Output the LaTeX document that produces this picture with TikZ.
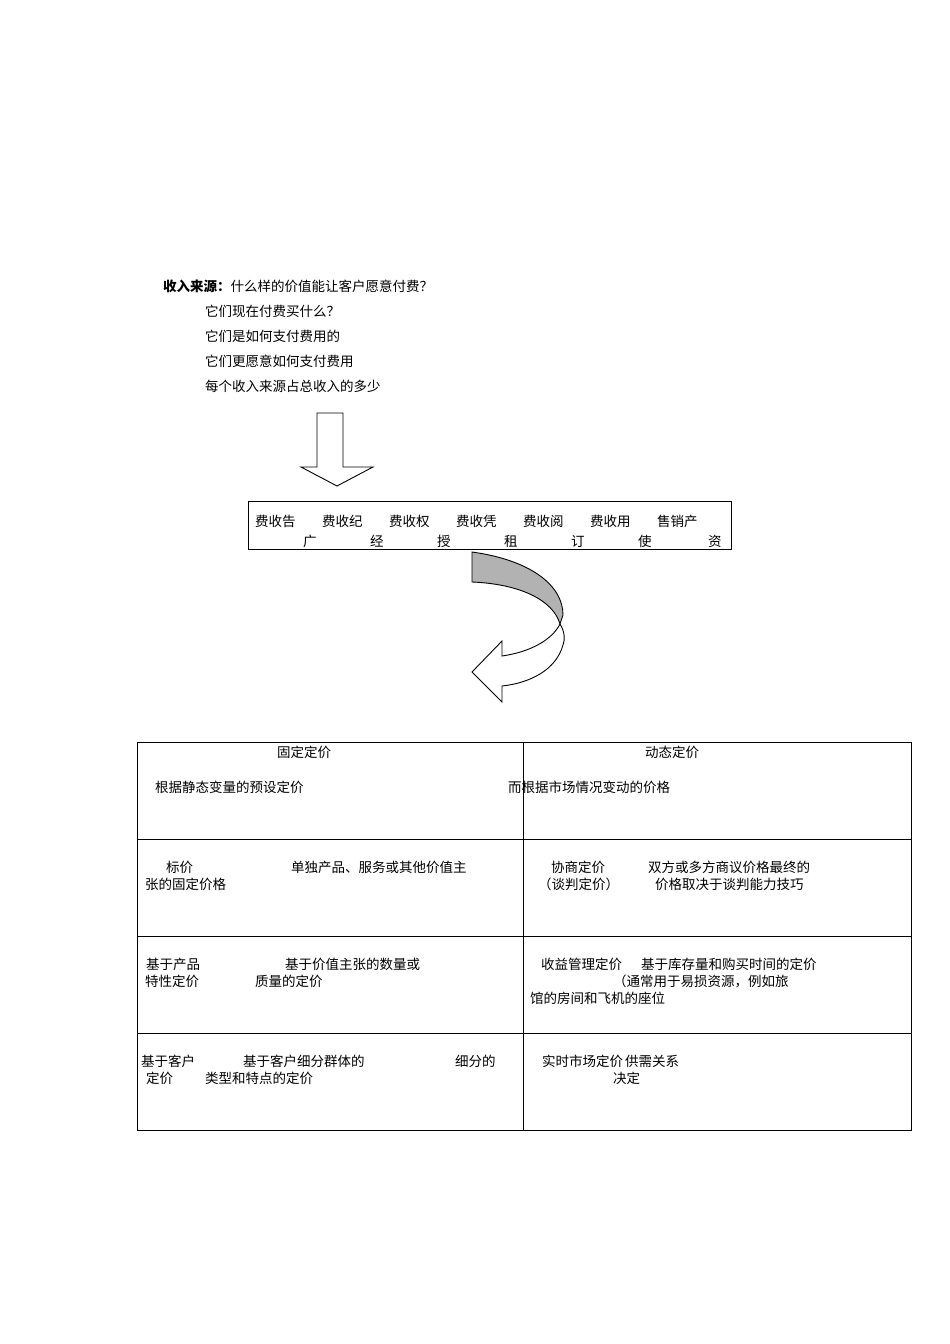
\documentclass[tikz,border=0pt]{standalone}
\usepackage{fontspec}
\setmainfont{Liberation Serif}
\newfontfamily\cjk{Noto Sans CJK SC}
\begin{document}
\begin{tikzpicture}[x=1pt,y=-1pt,
  txt/.style={anchor=west,inner sep=0pt,font=\cjk\fontsize{13.5}{16}\selectfont},
  ln/.style={draw=black,line width=0.9pt}]
\useasboundingbox (0,0) rectangle (950,1344);
% header text
\node[txt] (h0) at (163,286) {\textbf{收入来源：}什么样的价值能让客户愿意付费？};
\node[txt] (h1) at (205,311) {它们现在付费买什么？};
\node[txt] (h2) at (205,336) {它们是如何支付费用的};
\node[txt] (h3) at (205,361) {它们更愿意如何支付费用};
\node[txt] (h4) at (205,386) {每个收入来源占总收入的多少};
% down arrow
\draw[ln,fill=white] (317,413) -- (343,413) -- (343,467) -- (373,467) -- (337,486) -- (301,467) -- (317,467) -- cycle;
% box
\node[draw,line width=0.9pt,minimum width=483pt,minimum height=48pt,inner sep=0pt] (box) at (489.5,525) {};
\foreach \a/\b [count=\i from 0] in {告/广,纪/经,权/授,凭/租,阅/订,用/使}{
  \node[txt] at (255+\i*67,521) {费收\a};
  \node[txt] at (303+\i*67,541) {\b};
}
\node[txt] at (657,521) {售销产};
\node[txt] at (708,541) {资};
% curved arrow
\draw[ln,fill=gray!60] (472,552) .. controls (530,560) and (563,585) .. (563,615)
  -- (560,624) .. controls (553,600) and (520,584) .. (472,582) -- cycle;
\draw[ln,fill=white] (560,624) .. controls (565,632) and (565,640) .. (563,645)
  .. controls (556,670) and (530,683) .. (502,686) -- (502,702) -- (472,672) -- (502,641) -- (502,656)
  .. controls (530,652) and (552,640) .. (560,624);
% table
\draw[line width=0.8pt] (137,742) rectangle (911,1130);
\draw[line width=0.8pt] (523,742) -- (523,1130);
\foreach \y in {839,936,1033}{\draw[line width=0.8pt] (137,\y) -- (911,\y);}
\node[txt] at (277,752) {固定定价};
\node[txt] at (645,752) {动态定价};
\node[txt] at (155,787) {根据静态变量的预设定价};
\node[txt] at (508,787) {而根据市场情况变动的价格};
\node[txt] at (166,867) {标价};
\node[txt] at (291,867) {单独产品、服务或其他价值主};
\node[txt] at (145,884) {张的固定价格};
\node[txt] at (551,867) {协商定价};
\node[txt] at (648,867) {双方或多方商议价格最终的};
\node[txt] at (538,884) {（谈判定价）};
\node[txt] at (655,884) {价格取决于谈判能力技巧};
\node[txt] at (146,964) {基于产品};
\node[txt] at (285,964) {基于价值主张的数量或};
\node[txt] at (145,981) {特性定价};
\node[txt] at (255,981) {质量的定价};
\node[txt] at (541,964) {收益管理定价};
\node[txt] at (641,964) {基于库存量和购买时间的定价};
\node[txt] at (613,981) {（通常用于易损资源，例如旅};
\node[txt] at (530,998) {馆的房间和飞机的座位};
\node[txt] at (141,1061) {基于客户};
\node[txt] at (243,1061) {基于客户细分群体的};
\node[txt] at (455,1061) {细分的};
\node[txt] at (146,1078) {定价};
\node[txt] at (205,1078) {类型和特点的定价};
\node[txt] at (542,1061) {实时市场定价};
\node[txt] at (625,1061) {供需关系};
\node[txt] at (613,1078) {决定};
\end{tikzpicture}
\end{document}
